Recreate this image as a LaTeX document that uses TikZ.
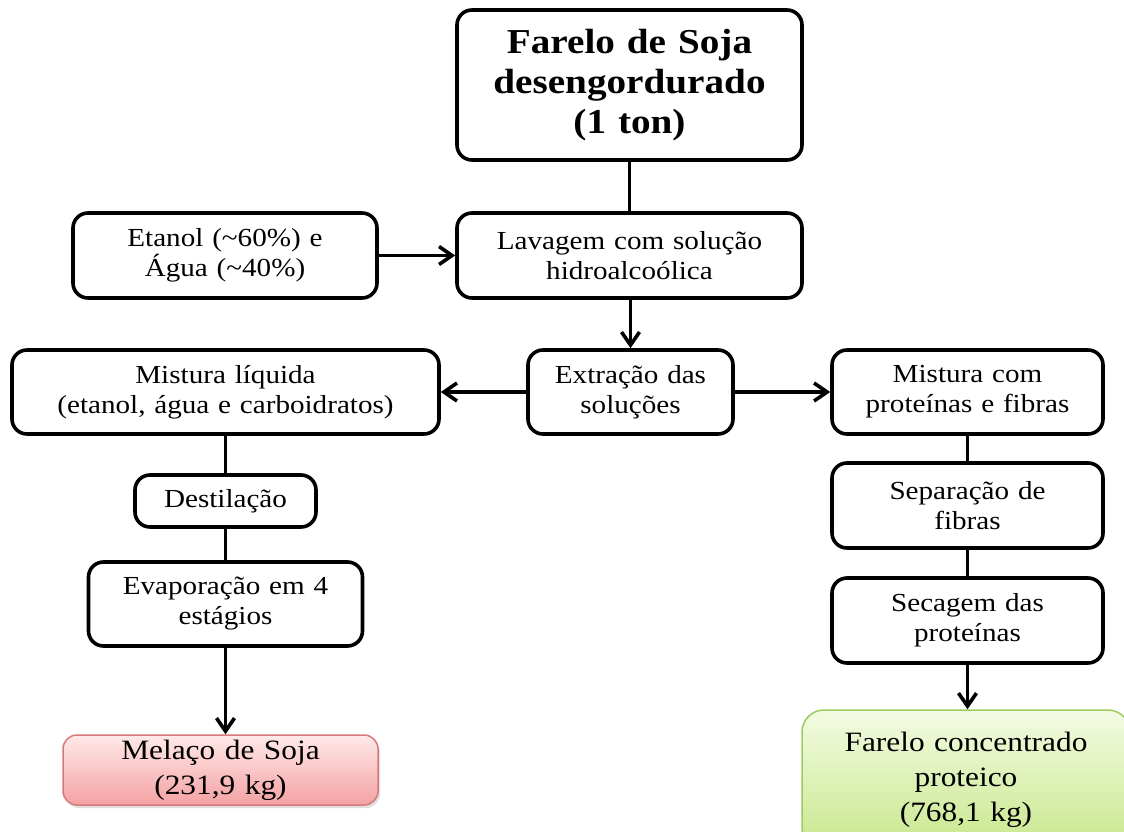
\documentclass[tikz,border=0pt]{standalone}
\usepackage{fontspec}
\setmainfont{Liberation Serif}[FakeStretch=1.12]
\usetikzlibrary{arrows.meta,shadows}
\definecolor{redfillT}{HTML}{FFE9E9}
\definecolor{redfillB}{HTML}{F4A2A3}
\definecolor{redline}{HTML}{D7797B}
\definecolor{grnfillT}{HTML}{F3FBE2}
\definecolor{grnfillB}{HTML}{C8E78C}
\definecolor{grnline}{HTML}{9DCB60}
\newcommand{\widespaces}{\spaceskip=0.34em plus 0.1em\relax}
\tikzset{
  box/.style={draw=black, line width=3.6pt, rounded corners=15pt, align=center,
    inner sep=2pt, font=\fontsize{26}{30}\selectfont,
    execute at begin node=\widespaces},
  titlebox/.style={box, font=\fontsize{35}{40}\selectfont\bfseries},
  endred/.style={draw=redline, line width=1.5pt, rounded corners=14pt, align=center,
    top color=redfillT, bottom color=redfillB,
    font=\fontsize{28}{35}\selectfont, execute at begin node=\widespaces,
    drop shadow={opacity=0.25, shadow xshift=2pt, shadow yshift=-3pt}},
  endgrn/.style={draw=grnline, line width=1.5pt, rounded corners=22pt, align=center,
    top color=grnfillT, bottom color=grnfillB,
    font=\fontsize{28}{35}\selectfont, execute at begin node=\widespaces},
  conn/.style={line width=3.6pt},
  arr/.style={line width=3.6pt, -{Straight Barb[length=13pt,width=18pt,line width=3.6pt]}},
}
\begin{document}
\begin{tikzpicture}[x=1pt,y=-1pt]
\useasboundingbox (0,0) rectangle (1124,832);
\clip (0,0) rectangle (1124,832);
\node[titlebox, minimum width=345pt, minimum height=150pt] (top) at (629.5,85)
  {Farelo de Soja\\desengordurado\\(1 ton)};
\node[box, minimum width=304pt, minimum height=85pt] (etanol) at (225,255.5)
  {Etanol (\textasciitilde60\%) e\\Água (\textasciitilde40\%)};
\node[box, minimum width=345pt, minimum height=85pt] (lav) at (629.5,255.5)
  {Lavagem com solução\\hidroalcoólica};
\node[box, minimum width=205pt, minimum height=84pt] (ext) at (630.5,392)
  {Extração das\\soluções};
\node[box, minimum width=427pt, minimum height=84pt] (mliq) at (225.5,392)
  {Mistura líquida\\(etanol, água e carboidratos)};
\node[box, minimum width=271pt, minimum height=84pt] (mcom) at (967.5,392)
  {Mistura com\\proteínas e fibras};
\node[box, minimum width=181pt, minimum height=52pt] (dest) at (225.5,501)
  {Destilação};
\node[box, minimum width=274pt, minimum height=84pt] (evap) at (225.5,604)
  {Evaporação em 4\\estágios};
\node[endred, minimum width=315pt, minimum height=70pt] (mel) at (220.5,770)
  {Melaço de Soja\\(231,9 kg)};
\node[box, minimum width=271pt, minimum height=85pt] (sep) at (967.5,505.5)
  {Separação de\\fibras};
\node[box, minimum width=271pt, minimum height=85pt] (sec) at (967.5,620.5)
  {Secagem das\\proteínas};
\node[endgrn, minimum width=328pt, minimum height=140pt] (far) at (966,780)
  {Farelo concentrado\\proteico\\(768,1 kg)};
\draw[conn] (top.south) -- (lav.north);
\draw[arr] (etanol.east) -- (lav.west);
\draw[arr] (ext.north |- lav.south) -- (ext.north);
\draw[arr] (ext.west) -- (mliq.east);
\draw[arr] (ext.east) -- (mcom.west);
\draw[conn] (mliq.south) -- (dest.north);
\draw[conn] (dest.south) -- (evap.north);
\draw[arr] (evap.south) -- (evap.south |- mel.north);
\draw[conn] (mcom.south) -- (sep.north);
\draw[conn] (sep.south) -- (sec.north);
\draw[arr] (sec.south) -- (sec.south |- far.north);
\end{tikzpicture}
\end{document}
